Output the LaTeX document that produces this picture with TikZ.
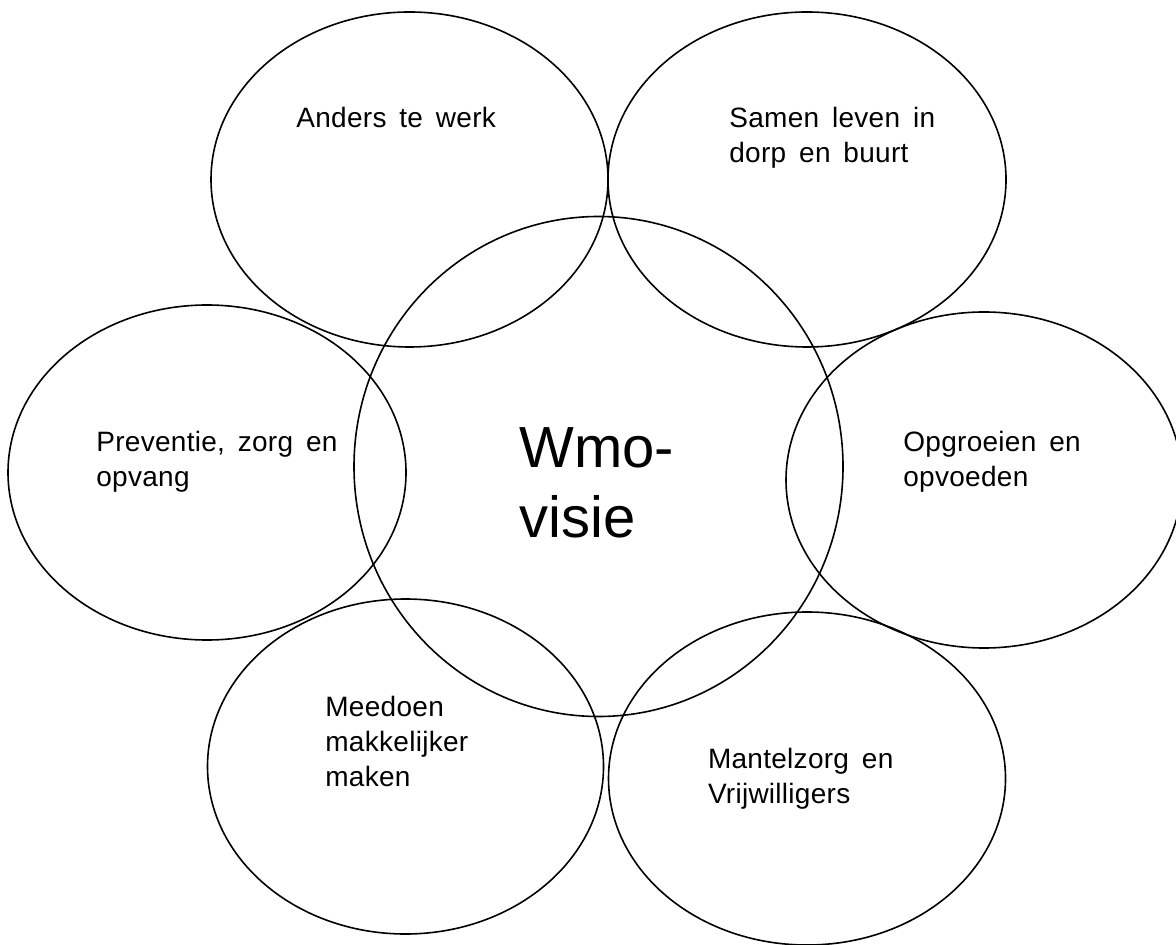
\documentclass[tikz,border=0pt]{standalone}
\usepackage{fontspec}
\setmainfont{Liberation Sans}[WordSpace=1.6, LetterSpace=1]
\newfontfamily\bigfont{Liberation Sans}
\usetikzlibrary{shapes.geometric}
\tikzset{
  oval/.style={ellipse, draw=black, line width=0.8pt, inner sep=0pt},
  lab/.style={anchor=base west, inner sep=0pt, align=left,
    font=\fontsize{14pt}{17.5pt}\selectfont},
  biglab/.style={anchor=base west, inner sep=0pt, align=left,
    font=\bigfont\fontsize{29pt}{35pt}\selectfont},
}
\begin{document}
\begin{tikzpicture}[x=0.5pt, y=-0.5pt]
\useasboundingbox[fill=white] (0,0) rectangle (1176,945);
% satellite ellipses
\node[oval, minimum width=198.5pt, minimum height=167.5pt] (anders) at (409.5,179.5) {};
\node[oval, minimum width=199pt, minimum height=167.5pt] (samen) at (807,179.5) {};
\node[oval, minimum width=199pt, minimum height=167.5pt] (prev) at (207,472.5) {};
\node[oval, minimum width=198pt, minimum height=168pt] (opgr) at (984,480) {};
\node[oval, minimum width=198pt, minimum height=167.5pt] (mee) at (405.5,766.5) {};
\node[oval, minimum width=198.5pt, minimum height=166.5pt] (mant) at (807,778.5) {};
% central ellipse
\node[oval, minimum width=244.5pt, minimum height=250pt] (wmo) at (598.5,466.5) {};
% labels (anchored at the baseline of the last line)
\node[lab] (tanders) at (296,127.7) {Anders te werk};
\node[lab] (tsamen) at (729,162.7) {Samen leven in\\dorp en buurt};
\node[lab] (tprev) at (96,487) {Preventie, zorg en\\opvang};
\node[lab] (topgr) at (903,487) {Opgroeien en\\opvoeden};
\node[lab] (tmee) at (325,786.5) {Meedoen\\makkelijker\\maken};
\node[lab] (tmant) at (707.6,803.5) {Mantelzorg en\\Vrijwilligers};
\node[biglab] (twmo) at (519,537.5) {Wmo-\\visie};
\end{tikzpicture}
\end{document}
